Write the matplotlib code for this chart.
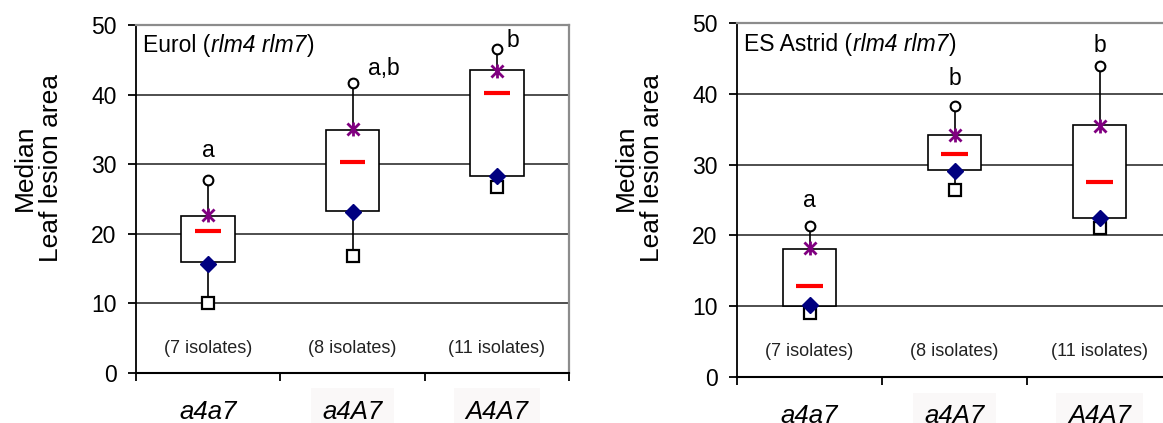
import matplotlib
matplotlib.use("Agg")
import matplotlib.pyplot as plt
from matplotlib.path import Path

plt.rcParams['font.family'] = ['Liberation Sans', 'DejaVu Sans']

# Data
genotypes = ['a4a7', 'a4A7', 'A4A7']
isolates = ['(7 isolates)', '(8 isolates)', '(11 isolates)']

eurol_q1 = [15.9, 23.3, 28.3]
eurol_q3 = [22.6, 34.9, 43.5]
eurol_median = [20.4, 30.3, 40.2]
eurol_max = [27.7, 41.6, 46.6]
eurol_min = [10.0, 16.8, 26.7]
eurol_star = [22.7, 35.0, 43.4]
eurol_diamond = [15.7, 23.1, 28.3]
eurol_letters = ['a', 'a,b', 'b']

astrid_q1 = [10.0, 29.3, 22.4]
astrid_q3 = [18.0, 34.2, 35.6]
astrid_median = [12.9, 31.5, 27.6]
astrid_max = [21.3, 38.3, 43.9]
astrid_min = [9.0, 26.4, 21.0]
astrid_star = [18.2, 34.2, 35.5]
astrid_diamond = [10.1, 29.1, 22.5]
astrid_letters = ['a', 'b', 'b']

# Excel-like star marker: X with a vertical bar
star = Path([(-1, -1), (1, 1), (-1, 1), (1, -1), (0, -1.15), (0, 1.15)],
            [Path.MOVETO, Path.LINETO, Path.MOVETO, Path.LINETO, Path.MOVETO, Path.LINETO])


def plot_panel(ax, q1, q3, med, vmax, vmin, vstar, vdiam, letters, letter_pos, cultivar, n_right):
    x = [i + 0.5 for i in range(len(q1))]
    bw = 0.37
    for xi, lo, hi, a, b in zip(x, q1, q3, vmin, vmax):
        ax.plot([xi, xi], [a, b], color='black', lw=1.2, zorder=2)
        ax.add_patch(plt.Rectangle((xi - bw / 2, lo), bw, hi - lo, facecolor='white',
                                   edgecolor='black', lw=1.2, zorder=3))
    ax.hlines(med, [xi - 0.09 for xi in x], [xi + 0.09 for xi in x], color='#ff0000', lw=3, zorder=4)
    ax.plot(x, vmax, 'o', ms=7, mfc='white', mec='black', mew=1.5, ls='none', zorder=5)
    ax.plot(x, vmin, 's', ms=8, mfc='white', mec='black', mew=1.6, ls='none', zorder=5)
    ax.plot(x, vdiam, 'D', ms=8, color='#000080', ls='none', zorder=5)
    ax.plot(x, vstar, marker=star, ms=10, mfc='none', mec='#800080', mew=2, ls='none', zorder=6)

    for lab, (lx, ly) in zip(letters, letter_pos):
        ax.text(lx, ly, lab, ha='center', va='center', fontsize=16.5)
    for xi, lab in zip(x, isolates):
        ax.text(xi, 3.5, lab, ha='center', va='center', fontsize=13, color='#222222')
    for i, (xi, lab) in enumerate(zip(x, genotypes)):
        bbox = None
        if i > 0:
            bbox = dict(boxstyle='square,pad=0.45', facecolor='#faf8f8', edgecolor='none')
        ax.text(xi, -0.112, lab, ha='center', va='center', fontsize=18.5, style='italic',
                transform=ax.get_xaxis_transform(), bbox=bbox, clip_on=False)

    # panel title: cultivar name, then italic genotype in brackets
    t1 = ax.text(0.05, 47.0, cultivar + ' (', ha='left', va='center', fontsize=16.5)
    t2 = ax.annotate('rlm4 rlm7', xy=(1, 0), xycoords=t1, xytext=(0.5, 0),
                     textcoords='offset points', ha='left', va='bottom',
                     fontsize=16.5, style='italic')
    ax.annotate(')', xy=(1, 0), xycoords=t2, xytext=(0.5, 0), textcoords='offset points',
                ha='left', va='bottom', fontsize=16.5)

    ax.set_xlim(0, 3)
    ax.set_ylim(0, 50)
    ax.set_yticks(range(0, 51, 10))
    ax.set_xticks(range(0, n_right))
    ax.set_xticklabels([])
    for y in range(10, 50, 10):
        ax.axhline(y, color='#404040', lw=1.3, zorder=1)
    ax.tick_params(axis='y', direction='out', length=6, width=1.3, labelsize=16.5, pad=8)
    ax.tick_params(axis='x', direction='out', length=6, width=1.3)
    ax.spines['left'].set_color('black')
    ax.spines['left'].set_linewidth(1.3)
    ax.spines['bottom'].set_color('black')
    ax.spines['bottom'].set_linewidth(1.5)
    ax.spines['top'].set_color('#8c8c8c')
    ax.spines['top'].set_linewidth(1.6)
    ax.spines['right'].set_color('#8c8c8c')
    ax.spines['right'].set_linewidth(1.6)
    ax.text(-0.226, 0.59, 'Median\nLeaf lesion area', rotation=90, ha='center', va='center',
            fontsize=19, linespacing=1.1, transform=ax.transAxes, multialignment='center')


fig = plt.figure(figsize=(11.63, 4.23), dpi=100)
ax1 = fig.add_axes([136 / 1163, 50 / 423, 433 / 1163, 348 / 423])
ax2 = fig.add_axes([737 / 1163, 46.3 / 423, 435 / 1163, 353.4 / 423])

plot_panel(ax1, eurol_q1, eurol_q3, eurol_median, eurol_max, eurol_min, eurol_star,
           eurol_diamond, eurol_letters, [(0.5, 32.0), (1.72, 43.8), (2.61, 47.8)],
           'Eurol', 4)
plot_panel(ax2, astrid_q1, astrid_q3, astrid_median, astrid_max, astrid_min, astrid_star,
           astrid_diamond, astrid_letters, [(0.5, 25.0), (1.5, 42.2), (2.5, 46.9)],
           'ES Astrid', 3)

fig.savefig('out.png', dpi=100)
